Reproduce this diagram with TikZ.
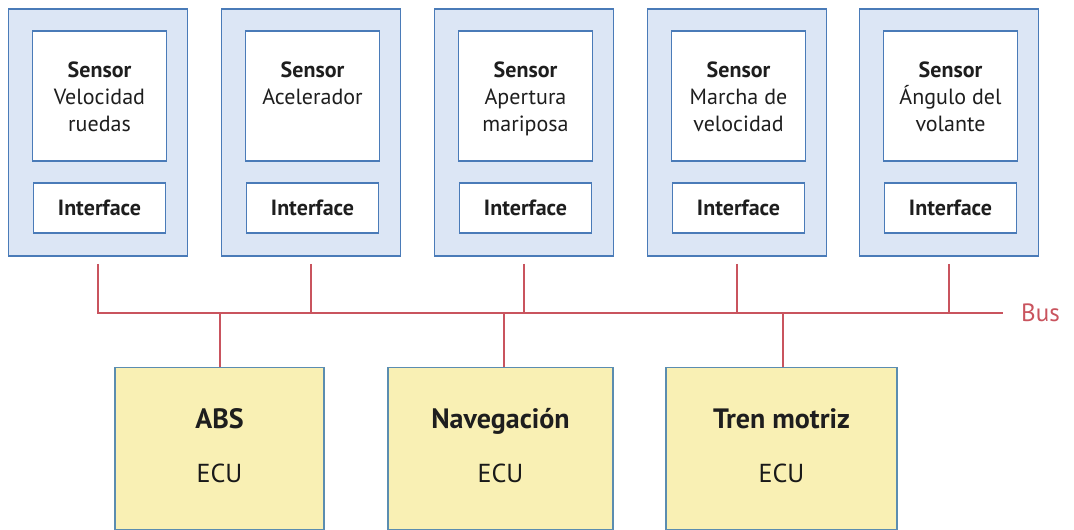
\documentclass[tikz,border=0pt]{standalone}
\usepackage{fontspec}
\setmainfont{PT Sans}
\definecolor{boxblue}{HTML}{4A7BB8}
\definecolor{lightblue}{HTML}{DCE6F5}
\definecolor{ecufill}{HTML}{F9F0B4}
\definecolor{ecuborder}{HTML}{5B8DB0}
\definecolor{busred}{HTML}{C9545E}
\definecolor{txt}{HTML}{1E1E1E}
\tikzset{
  outerbox/.style={draw=boxblue, fill=lightblue, line width=1.6pt, minimum width=179pt, minimum height=247pt, inner sep=0pt},
  sensbox/.style={draw=boxblue, fill=white, line width=1.8pt, minimum width=134pt, minimum height=130pt, inner sep=0pt},
  ifbox/.style={draw=boxblue, fill=white, line width=1.8pt, minimum width=132pt, minimum height=50pt, inner sep=0pt, font=\fontsize{22}{26}\selectfont\bfseries, text=txt},
  senstext/.style={anchor=north, align=center, inner sep=0pt, font=\fontsize{22}{27}\selectfont, text=txt},
  ecubox/.style={draw=ecuborder, fill=ecufill, line width=1.1pt, inner sep=0pt, minimum height=162pt},
  ecutitle/.style={anchor=base, inner sep=0pt, font=\fontsize{28}{30}\selectfont\bfseries, text=txt},
  ecutext/.style={anchor=base, inner sep=0pt, font=\fontsize{26}{30}\selectfont, text=txt!85!black},
  busline/.style={draw=busred, line width=2pt},
}
\begin{document}
\begin{tikzpicture}[x=1pt, y=-1pt]
\useasboundingbox (0,0) rectangle (1074,530);
% sensor modules
\foreach \i/\cx/\la/\lb in {1/98/Velocidad/ruedas, 2/311/Acelerador/{}, 3/524/Apertura/mariposa, 4/737/Marcha de/velocidad, 5/949/Ángulo del/volante}{
  \node[outerbox] (s\i) at (\cx,132.5) {};
  \node[sensbox] (sb\i) at (\cx+1.5,96) {};
  \node[ifbox] (if\i) at (\cx+1.5,208) {Interface};
  \node[senstext] (st\i) at (\cx+1.5,62) {\textbf{Sensor}\\\la\\\lb};
}
% ECUs
\node[ecubox, minimum width=209pt] (abs) at (219.5,448.5) {};
\node[ecubox, minimum width=225pt] (nav) at (500.5,448.5) {};
\node[ecubox, minimum width=231pt] (tren) at (781.5,448.5) {};
\node[ecutitle] (abst) at (219.5,428) {ABS};
\node[ecutitle] (navt) at (500.5,428) {Navegación};
\node[ecutitle] (trent) at (781.5,428) {Tren motriz};
\node[ecutext] (abse) at (219.5,482) {ECU};
\node[ecutext] (nave) at (500.5,482) {ECU};
\node[ecutext] (trene) at (781.5,482) {ECU};
% bus
\coordinate (busL) at (97,313);
\coordinate (busR) at (1003,313);
\draw[busline] (busL) -- (busR);
\node[anchor=west, inner sep=0pt, font=\fontsize{25}{28}\selectfont, text=busred] (buslabel) at (1021,313) {Bus};
\foreach \i in {1,...,5}{
  \draw[busline] ([yshift=-7pt]s\i.south) -- (s\i.south |- busL);
}
\draw[busline] ([xshift=0.5pt]abs.north) -- ([xshift=0.5pt]abs.north |- busL);
\draw[busline] ([xshift=3.5pt]nav.north) -- ([xshift=3.5pt]nav.north |- busL);
\draw[busline] ([xshift=1.5pt]tren.north) -- ([xshift=1.5pt]tren.north |- busL);
\end{tikzpicture}
\end{document}
